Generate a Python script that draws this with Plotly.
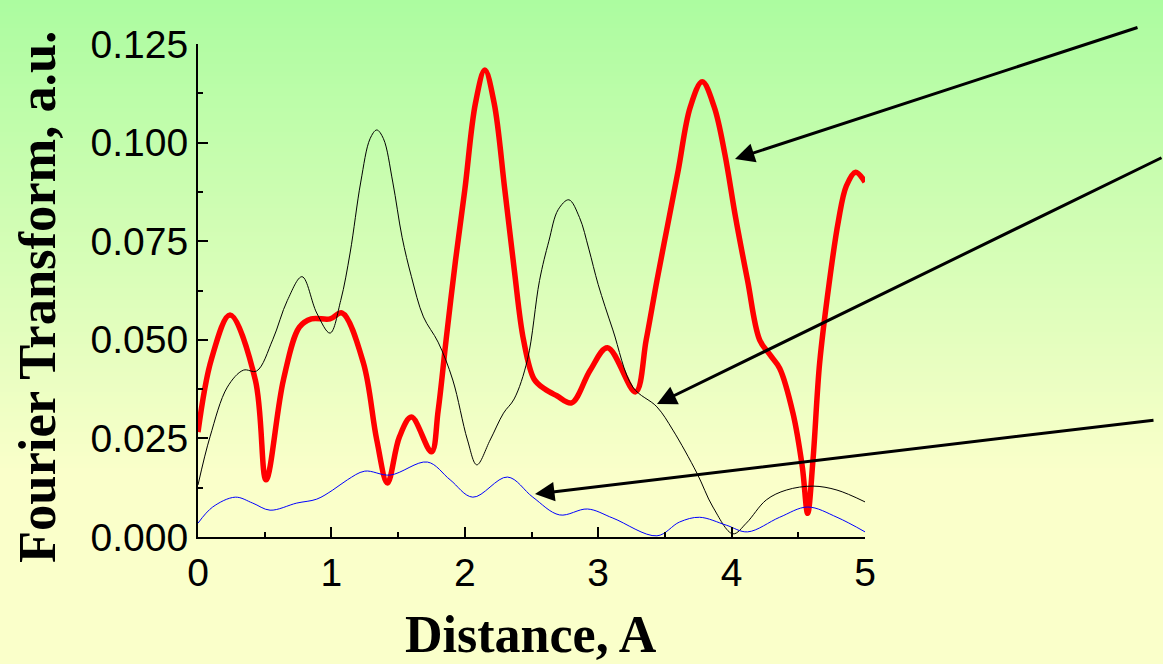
import plotly.graph_objects as go

# ---- data -------------------------------------------------------------
red_x = [0.00, 0.10, 0.24, 0.43, 0.51, 0.64, 0.76, 0.85, 0.99, 1.08, 1.24, 1.34,
         1.42, 1.51, 1.60, 1.75, 1.80, 1.86, 1.93, 2.00, 2.08, 2.15, 2.22, 2.30,
         2.37, 2.44, 2.52, 2.60, 2.69, 2.80, 2.94, 3.07, 3.28, 3.36, 3.44, 3.52,
         3.60, 3.69, 3.78, 3.87, 3.95, 4.03, 4.12, 4.21, 4.29, 4.36, 4.46, 4.53,
         4.57, 4.61, 4.66, 4.73, 4.80, 4.86, 4.93, 5.00]
red_y = [0.0266, 0.0450, 0.0563, 0.0398, 0.0145, 0.0398, 0.0532, 0.0553, 0.0553, 0.0568,
         0.0441, 0.0246, 0.0137, 0.0254, 0.0304, 0.0216, 0.0320, 0.0500, 0.0700, 0.0880,
         0.1100, 0.1184, 0.1100, 0.0880, 0.0680, 0.0500, 0.0400, 0.0375, 0.0358, 0.0340,
         0.0423, 0.0480, 0.0368, 0.0500, 0.0650, 0.0790, 0.0930, 0.1090, 0.1154, 0.1090,
         0.0970, 0.0810, 0.0650, 0.0500, 0.0461, 0.0428, 0.0314, 0.0178, 0.0060, 0.0195,
         0.0441, 0.0640, 0.0800, 0.0890, 0.0925, 0.0900]

black_x = [0.00, 0.09, 0.22, 0.34, 0.44, 0.56, 0.67, 0.78, 0.89, 0.99, 1.07, 1.14,
           1.22, 1.29, 1.34, 1.39, 1.46, 1.53, 1.60, 1.69, 1.80, 1.91, 2.02, 2.09,
           2.19, 2.29, 2.37, 2.47, 2.56, 2.63, 2.70, 2.78, 2.86, 2.93, 3.00, 3.11,
           3.26, 3.44, 3.56, 3.74, 3.86, 4.01, 4.11, 4.26, 4.41, 4.61, 4.79, 5.00]
black_y = [0.0132, 0.0254, 0.0380, 0.0423, 0.0421, 0.0500, 0.0600, 0.0660, 0.0568, 0.0517,
           0.0600, 0.0720, 0.0900, 0.1010, 0.1032, 0.1010, 0.0900, 0.0760, 0.0660, 0.0558,
           0.0494, 0.0398, 0.0246, 0.0183, 0.0246, 0.0314, 0.0350, 0.0450, 0.0650, 0.0750,
           0.0830, 0.0855, 0.0810, 0.0730, 0.0640, 0.0525, 0.0380, 0.0330, 0.0271, 0.0162,
           0.0076, 0.0008, 0.0035, 0.0094, 0.0119, 0.0129, 0.0119, 0.0089]

blue_x = [0.00, 0.11, 0.28, 0.41, 0.54, 0.74, 0.89, 1.01, 1.12, 1.25, 1.44, 1.72,
          1.89, 2.06, 2.32, 2.51, 2.71, 2.92, 3.11, 3.44, 3.61, 3.76, 3.96, 4.12,
          4.36, 4.57, 4.79, 5.00]
blue_y = [0.0035, 0.0076, 0.0101, 0.0086, 0.0068, 0.0086, 0.0096, 0.0119, 0.0145, 0.0167,
          0.0157, 0.0190, 0.0145, 0.0101, 0.0152, 0.0101, 0.0056, 0.0071, 0.0048, 0.0003,
          0.0038, 0.0050, 0.0030, 0.0013, 0.0050, 0.0076, 0.0050, 0.0013]

x_ticks = [0, 1, 2, 3, 4, 5]
y_ticks = [0.000, 0.025, 0.050, 0.075, 0.100, 0.125]
y_tick_text = ["0.000", "0.025", "0.050", "0.075", "0.100", "0.125"]

# ---- page geometry ----------------------------------------------------
W, H = 1163, 664
ML, MR, MT, MB = 198, 298, 44, 127
PW, PH = W - ML - MR, H - MT - MB


def px_to_paper(px, py):
    return (px - ML) / PW, (H - MB - py) / PH


fig = go.Figure()

fig.add_trace(go.Scatter(x=red_x, y=red_y, mode="lines",
                         line=dict(color="#ff0000", width=5.5, shape="spline", smoothing=1.0),
                         hoverinfo="skip"))
fig.add_trace(go.Scatter(x=black_x, y=black_y, mode="lines",
                         line=dict(color="#000000", width=1, shape="spline", smoothing=1.0),
                         hoverinfo="skip"))
fig.add_trace(go.Scatter(x=blue_x, y=blue_y, mode="lines",
                         line=dict(color="#0000ff", width=1, shape="spline", smoothing=1.0),
                         hoverinfo="skip"))

# vertical background gradient: green at top fading to pale yellow
top_c = (172, 252, 160)
bot_c = (250, 255, 202)
fade_end = 470
shapes = []
step = 4
for py in range(0, H, step):
    t = min(py / fade_end, 1.0)
    c = tuple(round(top_c[i] + (bot_c[i] - top_c[i]) * t) for i in range(3))
    x0, y0 = px_to_paper(0, py)
    x1, y1 = px_to_paper(W, min(py + step + 1, H))
    shapes.append(dict(type="rect", xref="paper", yref="paper",
                       x0=x0, x1=x1, y0=y1, y1=y0, line=dict(width=0),
                       fillcolor="rgb(%d,%d,%d)" % c, layer="below"))

# arrows pointing at each curve (tail -> head, in pixels)
arrows = [((1139, 27), (735, 159)),
          ((1180, 157), (657, 404)),
          ((1155, 420), (535, 494))]
annotations = []
for (tx, ty), (hx, hy) in arrows:
    x, y = px_to_paper(hx, hy)
    annotations.append(dict(x=x, y=y, xref="paper", yref="paper", text="",
                            showarrow=True, arrowhead=2, arrowsize=1.3, arrowwidth=3,
                            arrowcolor="#000000", ax=tx - hx, ay=ty - hy))

ax_x, ax_y = px_to_paper(531, 634)
annotations.append(dict(x=ax_x, y=ax_y, xref="paper", yref="paper",
                        text="<b>Distance, A</b>", showarrow=False,
                        xanchor="center", yanchor="middle",
                        font=dict(family="Liberation Serif", size=52, color="#000000")))
ay_x, ay_y = px_to_paper(37, 297)
annotations.append(dict(x=ay_x, y=ay_y, xref="paper", yref="paper",
                        text="<b>Fourier Transform, a.u.</b>", showarrow=False,
                        textangle=-90, xanchor="center", yanchor="middle",
                        font=dict(family="Liberation Serif", size=52.5, color="#000000")))

tick_font = dict(family="Liberation Sans", size=39, color="#000000")

fig.update_layout(
    width=W, height=H,
    margin=dict(l=ML, r=MR, t=MT, b=MB, pad=0),
    paper_bgcolor="rgb(%d,%d,%d)" % bot_c,
    plot_bgcolor="rgba(0,0,0,0)",
    showlegend=False,
    shapes=shapes,
    annotations=annotations,
    xaxis=dict(range=[0, 5], tickvals=x_ticks, ticktext=[str(v) for v in x_ticks],
               ticks="inside", ticklen=10, tickwidth=2, tickcolor="#000000",
               minor=dict(dtick=0.5, ticks="inside", ticklen=5, tickwidth=2,
                          tickcolor="#000000", showgrid=False),
               showline=True, linecolor="#000000", linewidth=2, mirror=False,
               showgrid=False, zeroline=False, tickfont=tick_font),
    yaxis=dict(range=[0, 0.125], tickvals=y_ticks, ticktext=y_tick_text,
               ticks="inside", ticklen=10, tickwidth=2, tickcolor="#000000",
               minor=dict(dtick=0.0125, ticks="inside", ticklen=5, tickwidth=2,
                          tickcolor="#000000", showgrid=False),
               showline=True, linecolor="#000000", linewidth=2, mirror=False,
               showgrid=False, zeroline=False, tickfont=tick_font),
)

fig.write_html("out.html")
